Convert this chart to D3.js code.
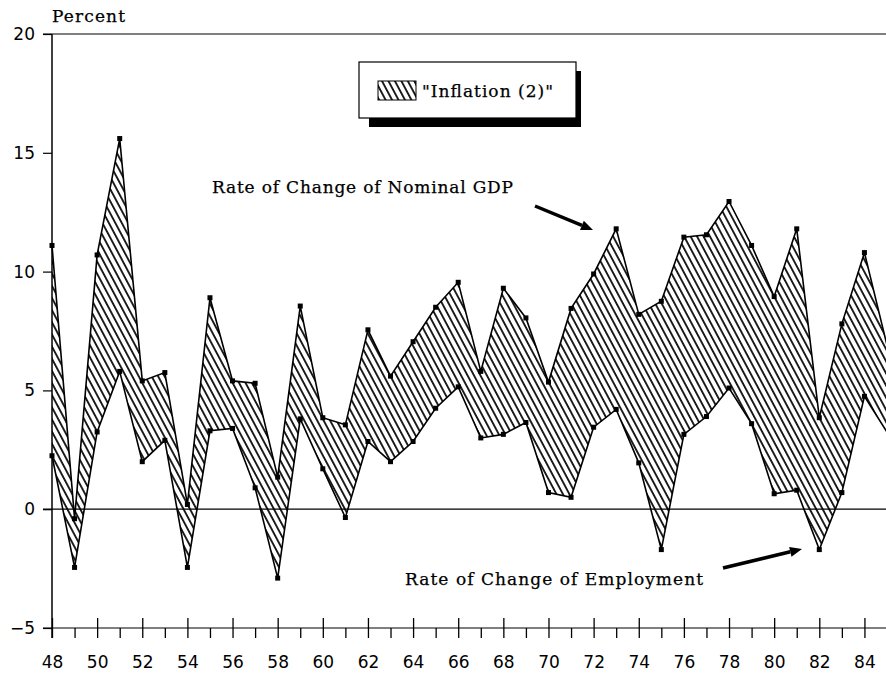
<!DOCTYPE html>
<html>
<head>
<meta charset="utf-8">
<script src="https://cdn.jsdelivr.net/npm/d3@7"></script>
<style>
  body { margin: 0; background: #fff; }
  .serif { font-family: "DejaVu Serif", serif; font-size: 17px; fill: #000; stroke: #000; stroke-width: 0.25px; }
</style>
</head>
<body>
<div id="chart"></div>
<script>
// Years (19xx) and the two series
var years = [48, 49, 50, 51, 52, 53, 54, 55, 56, 57, 58, 59, 60, 61, 62, 63, 64, 65, 66,
             67, 68, 69, 70, 71, 72, 73, 74, 75, 76, 77, 78, 79, 80, 81, 82, 83, 84, 85];

// Rate of change of nominal GDP (%)
var nominalGdp = [11.1, -0.4, 10.7, 15.6, 5.4, 5.75, 0.2, 8.9, 5.4, 5.3, 1.35, 8.55, 3.85, 3.55, 7.55, 5.6, 7.05, 8.5, 9.55,
                  5.8, 9.3, 8.05, 5.35, 8.45, 9.9, 11.8, 8.2, 8.75, 11.45, 11.55, 12.95, 11.1, 8.95, 11.8, 3.85, 7.8, 10.8, 6.9];

// Rate of change of employment (%)
var employment = [2.25, -2.45, 3.25, 5.8, 2.0, 2.9, -2.45, 3.3, 3.4, 0.9, -2.9, 3.8, 1.7, -0.35, 2.85, 2.0, 2.85, 4.25, 5.15,
                  3.0, 3.15, 3.65, 0.7, 0.5, 3.45, 4.2, 1.95, -1.7, 3.15, 3.9, 5.1, 3.6, 0.65, 0.8, -1.7, 0.7, 4.75, 3.25];

// Tick values
var yTicks = [-5, 0, 5, 10, 15, 20];
var xMajorTicks = [48, 50, 52, 54, 56, 58, 60, 62, 64, 66, 68, 70, 72, 74, 76, 78, 80, 82, 84];
var xMinorTicks = [49, 51, 53, 55, 57, 59, 61, 63, 65, 67, 69, 71, 73, 75, 77, 79, 81, 83, 85];

var svgWidth = 886;
var svgHeight = 677;

var margin = { top: 34, right: 0, bottom: 49, left: 52 };

var svg = d3.select("#chart")
  .append("svg")
  .attr("width", svgWidth)
  .attr("height", svgHeight);

// Scales
var xScale = d3.scaleLinear()
  .domain([48, 85])
  .range([margin.left, 887]);

var yScale = d3.scaleLinear()
  .domain([-5, 20])
  .range([svgHeight - margin.bottom, margin.top]);

// Hatch pattern for the band
var defs = svg.append("defs");
defs.append("pattern")
  .attr("id", "hatch")
  .attr("patternUnits", "userSpaceOnUse")
  .attr("width", 5.7)
  .attr("height", 10)
  .attr("patternTransform", "rotate(-28)")
  .append("line")
  .attr("x1", 2.85).attr("y1", -1)
  .attr("x2", 2.85).attr("y2", 11)
  .attr("stroke", "#000")
  .attr("stroke-width", 1.7);

defs.append("clipPath")
  .attr("id", "plotClip")
  .append("rect")
  .attr("x", 40)
  .attr("y", 0)
  .attr("width", 886 - 40)
  .attr("height", svgHeight);

var rows = years.map(function(yr, i) {
  return { year: yr, gdp: nominalGdp[i], emp: employment[i] };
});

// Horizontal reference lines at 20 and 0
[20, 0].forEach(function(v) {
  svg.append("line")
    .attr("x1", margin.left - 9)
    .attr("x2", svgWidth)
    .attr("y1", yScale(v))
    .attr("y2", yScale(v))
    .attr("stroke", "#000")
    .attr("stroke-width", 1.2);
});

var plot = svg.append("g").attr("clip-path", "url(#plotClip)");

// Band between the two series
var band = d3.area()
  .x(d => xScale(d.year))
  .y0(d => yScale(d.emp))
  .y1(d => yScale(d.gdp));

plot.append("path")
  .datum(rows)
  .attr("d", band)
  .attr("fill", "url(#hatch)");

var gdpLine = d3.line().x(d => xScale(d.year)).y(d => yScale(d.gdp));
var empLine = d3.line().x(d => xScale(d.year)).y(d => yScale(d.emp));

plot.append("path")
  .datum(rows)
  .attr("d", gdpLine)
  .attr("fill", "none")
  .attr("stroke", "#000")
  .attr("stroke-width", 1.6);

plot.append("path")
  .datum(rows)
  .attr("d", empLine)
  .attr("fill", "none")
  .attr("stroke", "#000")
  .attr("stroke-width", 1.6);

// Square markers
var markerRows = rows.filter(d => d.year < 85);
["gdp", "emp"].forEach(function(key) {
  plot.selectAll("rect.m-" + key)
    .data(markerRows)
    .enter()
    .append("rect")
    .attr("class", "m-" + key)
    .attr("x", d => xScale(d.year) - 2.5)
    .attr("y", d => yScale(d[key]) - 2.5)
    .attr("width", 5)
    .attr("height", 5)
    .attr("fill", "#000");
});

// Tick label font, set on the axis group that d3 styles
function styleTicks(g) {
  g.attr("font-family", "'DejaVu Sans', sans-serif")
    .attr("font-size", 17);
  g.selectAll(".tick text").attr("fill", "#000");
}

// Bottom axis: major ticks cross the axis line, minor ticks hang below
var axisY = yScale(-5);
var bottomMajor = svg.append("g")
  .attr("transform", `translate(0, ${axisY})`)
  .call(d3.axisBottom(xScale).tickValues(xMajorTicks).tickSize(10).tickPadding(18).tickFormat(d3.format("d")));
bottomMajor.select(".domain").remove();
bottomMajor.selectAll(".tick line").attr("y1", -10).attr("stroke-width", 1.3);
styleTicks(bottomMajor);

var bottomMinor = svg.append("g")
  .attr("transform", `translate(0, ${axisY})`)
  .call(d3.axisBottom(xScale).tickValues(xMinorTicks).tickSize(10).tickFormat(""));
bottomMinor.select(".domain").remove();
bottomMinor.selectAll(".tick line").attr("stroke-width", 1.3);

svg.append("line")
  .attr("x1", margin.left - 9)
  .attr("x2", svgWidth)
  .attr("y1", axisY)
  .attr("y2", axisY)
  .attr("stroke", "#000")
  .attr("stroke-width", 1.2);

// Left axis
var leftAxis = svg.append("g")
  .attr("transform", `translate(${margin.left}, 0)`)
  .call(d3.axisLeft(yScale).tickValues(yTicks).tickSize(9).tickPadding(8).tickFormat(d => d < 0 ? "\u2212" + Math.abs(d) : d));
leftAxis.select(".domain").remove();
leftAxis.selectAll(".tick line").attr("stroke-width", 1.2);
styleTicks(leftAxis);

svg.append("line")
  .attr("x1", margin.left)
  .attr("x2", margin.left)
  .attr("y1", margin.top)
  .attr("y2", axisY + 10)
  .attr("stroke", "#000")
  .attr("stroke-width", 1.5);

// Axis title
svg.append("text")
  .attr("class", "serif")
  .attr("x", 52)
  .attr("y", 22)
  .attr("textLength", 73)
  .text("Percent");

// Legend box with drop shadow
svg.append("rect")
  .attr("x", 369).attr("y", 71)
  .attr("width", 212).attr("height", 56)
  .attr("fill", "#000");
svg.append("rect")
  .attr("x", 359).attr("y", 62)
  .attr("width", 217).attr("height", 56)
  .attr("fill", "#fff")
  .attr("stroke", "#000")
  .attr("stroke-width", 1.2);
svg.append("rect")
  .attr("x", 378).attr("y", 81)
  .attr("width", 38).attr("height", 19)
  .attr("fill", "url(#hatch)")
  .attr("stroke", "#000")
  .attr("stroke-width", 1);
svg.append("text")
  .attr("class", "serif")
  .attr("x", 422)
  .attr("y", 97)
  .attr("textLength", 131)
  .text("\"Inflation (2)\"");

// Annotations with arrows
function arrow(x1, y1, x2, y2) {
  var ang = Math.atan2(y2 - y1, x2 - x1);
  var len = 12, half = 5;
  var bx = x2 - len * Math.cos(ang), by = y2 - len * Math.sin(ang);
  svg.append("line")
    .attr("x1", x1).attr("y1", y1)
    .attr("x2", bx).attr("y2", by)
    .attr("stroke", "#000")
    .attr("stroke-width", 3.5);
  svg.append("path")
    .attr("d", `M${x2},${y2}L${bx - half * Math.sin(ang)},${by + half * Math.cos(ang)}L${bx + half * Math.sin(ang)},${by - half * Math.cos(ang)}Z`)
    .attr("fill", "#000");
}

svg.append("text")
  .attr("class", "serif")
  .attr("x", 212)
  .attr("y", 193)
  .attr("textLength", 301)
  .text("Rate of Change of Nominal GDP");
arrow(535, 206, 593, 230);

svg.append("text")
  .attr("class", "serif")
  .attr("x", 405)
  .attr("y", 585)
  .attr("textLength", 298)
  .text("Rate of Change of Employment");
arrow(723, 568, 802, 549);
</script>
</body>
</html>
